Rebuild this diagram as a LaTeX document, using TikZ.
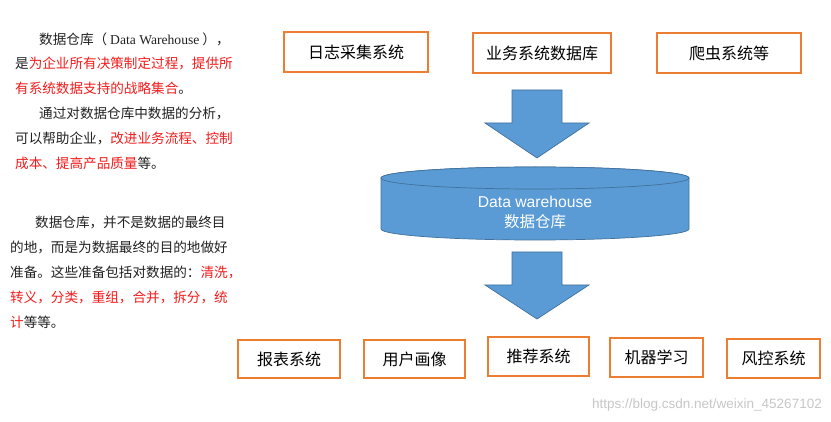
\documentclass[tikz,border=0pt]{standalone}
\usepackage{fontspec}
\setmainfont{Liberation Serif}
\newfontfamily\cjk{Noto Sans CJK SC}
\newfontfamily\arialf{Liberation Sans}
\definecolor{boxorange}{HTML}{ED7D31}
\definecolor{dwblue}{HTML}{5B9BD5}
\definecolor{dwedge}{HTML}{41719C}
\definecolor{txtred}{HTML}{F31C1C}
\definecolor{txtblack}{HTML}{222222}
\tikzset{
  srcbox/.style={draw=boxorange, line width=1.3pt, fill=white, inner sep=0pt,
    font=\cjk\fontsize{16}{18}\selectfont, text=black},
  blockarrow/.style={fill=dwblue, draw=dwedge, line width=0.7pt},
  para/.style={anchor=base west, inner sep=0pt, text=txtblack, font=\cjk\fontsize{13.6}{16}\selectfont},
  dwtext/.style={anchor=base, inner sep=0pt, text=white}
}
\begin{document}
\begin{tikzpicture}[x=1pt,y=-1pt]
\fill[white] (0,0) rectangle (831,422);
\useasboundingbox (0,0) rectangle (831,422);

% left text, paragraph 1
\node[para] (p1) at (39,44.5) {数据仓库（ {\rmfamily Data Warehouse} ），};
\node[para] (p2) at (15,69) {是\textcolor{txtred}{为企业所有决策制定过程，提供所}};
\node[para] (p3) at (15,94) {\textcolor{txtred}{有系统数据支持的战略集合}。};
\node[para] (p4) at (39,119) {通过对数据仓库中数据的分析，};
\node[para] (p5) at (15,144) {可以帮助企业，\textcolor{txtred}{改进业务流程、控制}};
\node[para] (p6) at (15,169) {\textcolor{txtred}{成本、提高产品质量}等。};

% left text, paragraph 2
\node[para] (q1) at (35,228) {数据仓库，并不是数据的最终目};
\node[para] (q2) at (10,253) {的地，而是为数据最终的目的地做好};
\node[para] (q3) at (10,278) {准备。这些准备包括对数据的：\textcolor{txtred}{清洗，}};
\node[para] (q4) at (10,303) {\textcolor{txtred}{转义，分类，重组，合并，拆分，统}};
\node[para] (q5) at (10,328) {\textcolor{txtred}{计}等等。};

% source boxes
\node[srcbox, minimum width=144pt, minimum height=40pt] (t1) at (356,52) {日志采集系统};
\node[srcbox, minimum width=138pt, minimum height=40pt] (t2) at (542,53) {业务系统数据库};
\node[srcbox, minimum width=144pt, minimum height=40pt] (t3) at (729,53) {爬虫系统等};

% arrow 1
\draw[blockarrow] (512,90) -- (562,90) -- (562,123) -- (589,123) -- (537,158)
  -- (485,123) -- (512,123) -- cycle;

% cylinder
\draw[fill=dwblue, draw=dwedge, line width=0.7pt]
  (381,178) -- (381,229) arc[start angle=180, end angle=360, x radius=154pt, y radius=11pt]
  -- (689,178) arc[start angle=0, end angle=180, x radius=154pt, y radius=11pt] -- cycle;
\draw[fill=dwblue, draw=dwedge, line width=0.7pt] (535,178) ellipse[x radius=154pt, y radius=11pt];
\node[dwtext, font=\arialf\fontsize{15.7}{18}\selectfont] (dw) at (535,207.5) {Data warehouse};
\node[dwtext, font=\cjk\fontsize{15.5}{18}\selectfont] (dwcn) at (535,227.5) {数据仓库};

% arrow 2
\draw[blockarrow] (512,252) -- (562,252) -- (562,285) -- (589,285) -- (537,319)
  -- (485,285) -- (512,285) -- cycle;

% target boxes
\node[srcbox, minimum width=102pt, minimum height=38pt] (b1) at (289,359) {报表系统};
\node[srcbox, minimum width=101pt, minimum height=38pt] (b2) at (414.5,359) {用户画像};
\node[srcbox, minimum width=101pt, minimum height=39pt] (b3) at (538.5,356.5) {推荐系统};
\node[srcbox, minimum width=93pt, minimum height=39pt] (b4) at (656.5,357.5) {机器学习};
\node[srcbox, minimum width=93pt, minimum height=39pt] (b5) at (773.5,358.5) {风控系统};

% watermark
\node[anchor=base east, inner sep=0pt, text=black!22, font=\arialf\fontsize{13.5}{16}\selectfont] (wm) at (822,409) {https://blog.csdn.net/weixin\_45267102};
\end{tikzpicture}
\end{document}
